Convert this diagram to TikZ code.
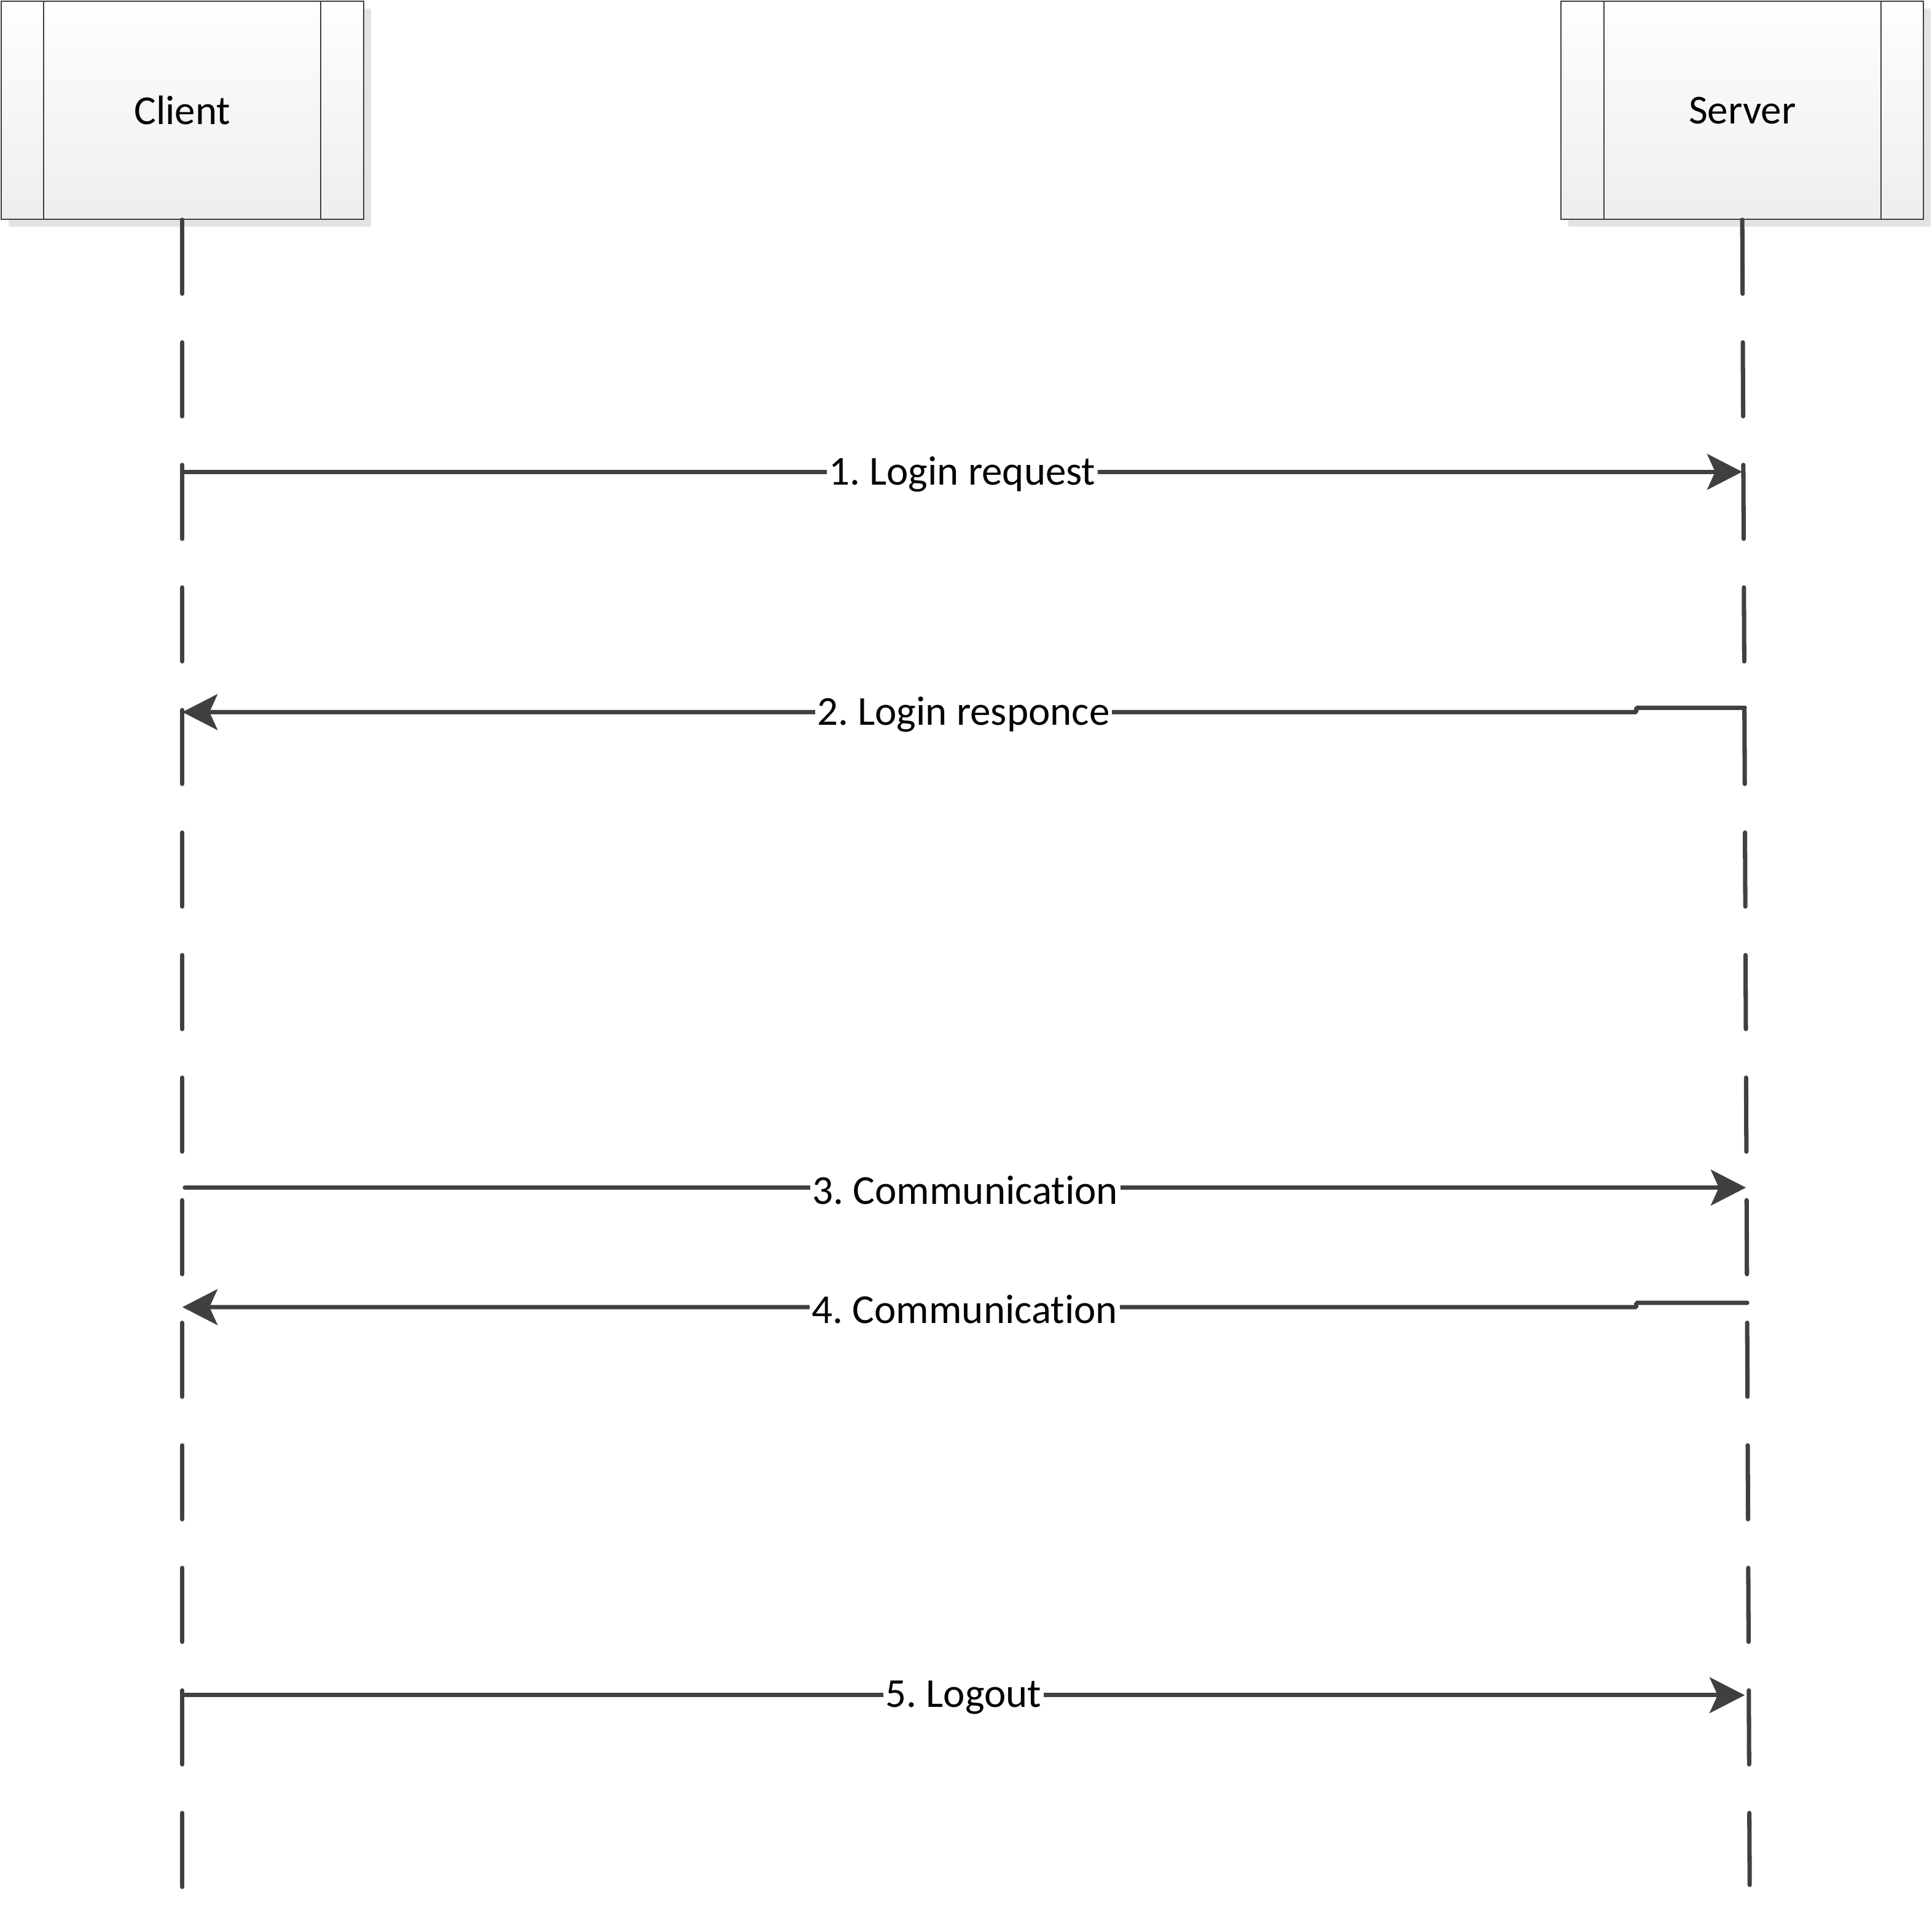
\documentclass[tikz,border=0pt]{standalone}
\usepackage{fontspec}
\setmainfont{Carlito}[Ligatures=NoCommon]
\usetikzlibrary{arrows.meta,shadows,calc}
\frenchspacing

\definecolor{linegray}{HTML}{404040}
\definecolor{boxtop}{HTML}{FEFEFE}
\definecolor{boxbottom}{HTML}{EEEEEE}
\definecolor{shadowgray}{HTML}{E3E3E3}

\tikzset{
    lifebox/.style={draw=linegray, line width=0.5pt, minimum width=5.88cm, minimum height=3.54cm,
        top color=boxtop, bottom color=boxbottom, font=\fontsize{19}{23}\selectfont,
        drop shadow={shadow xshift=0.12cm, shadow yshift=-0.12cm, fill=shadowgray, opacity=1}},
    boxline/.style={linegray, line width=0.5pt},
    lifeline/.style={linegray, line width=2pt, line cap=round, dash pattern=on 1.2cm off 0.79cm},
    msg/.style={linegray, line width=2pt, line cap=round, -{Stealth[length=5.7mm,width=5.8mm,inset=1.3mm]}},
    msglabel/.style={fill=white, text=black, inner xsep=1pt, inner ysep=2pt, yshift=-0.04cm,
        font=\fontsize{19}{23}\selectfont},
}

\begin{document}
\begin{tikzpicture}[x=0.02cm, y=-0.02cm]

    \useasboundingbox (0,0) rectangle (1568,1565);

    % Draw the client and server boxes
    \node[lifebox] (client) at (148,89.5) {Client};
    \node[lifebox] (server) at (1414,89.5) {Server};
    \foreach \n in {client,server} {
        \draw[boxline] ([xshift=0.7cm]\n.north west) -- ([xshift=0.7cm]\n.south west);
        \draw[boxline] ([xshift=-0.7cm]\n.north east) -- ([xshift=-0.7cm]\n.south east);
    }

    % Draw the lifelines
    \coordinate (cend) at (148,1535);
    \coordinate (send) at (1420,1530);
    \draw[lifeline] (client.south) -- (cend);
    \draw[lifeline] (server.south) -- (send);

    % Points on the lifelines
    \coordinate (c1) at (148,383);
    \coordinate (s1) at (1414,383);
    \coordinate (c2) at (148,578);
    \coordinate (s2) at (1416,574.5);
    \coordinate (c3) at (150,964);
    \coordinate (s3) at (1417,964);
    \coordinate (c4) at (148,1061);
    \coordinate (s4) at (1418,1057.5);
    \coordinate (c5) at (148,1376);
    \coordinate (s5) at (1416,1376);

    % Draw the messages
    \draw[msg] (c1) -- node[msglabel] {1. Login request} (s1);
    \draw[msg, rounded corners=0.5pt] (s2) -- ++(-88,0) -- ++(0,3.5) -- (c2);
    \node[msglabel] (m2) at ($(c2)!0.5!(s2 |- c2)$) {2. Login responce};
    \draw[msg] (c3) -- node[msglabel] {3. Communication} (s3);
    \draw[msg, rounded corners=0.5pt] (s4) -- ++(-90,0) -- ++(0,3.5) -- (c4);
    \node[msglabel] (m4) at ($(c4)!0.5!(s4 |- c4)$) {4. Communication};
    \draw[msg] (c5) -- node[msglabel] {5. Logout} (s5);

\end{tikzpicture}
\end{document}
